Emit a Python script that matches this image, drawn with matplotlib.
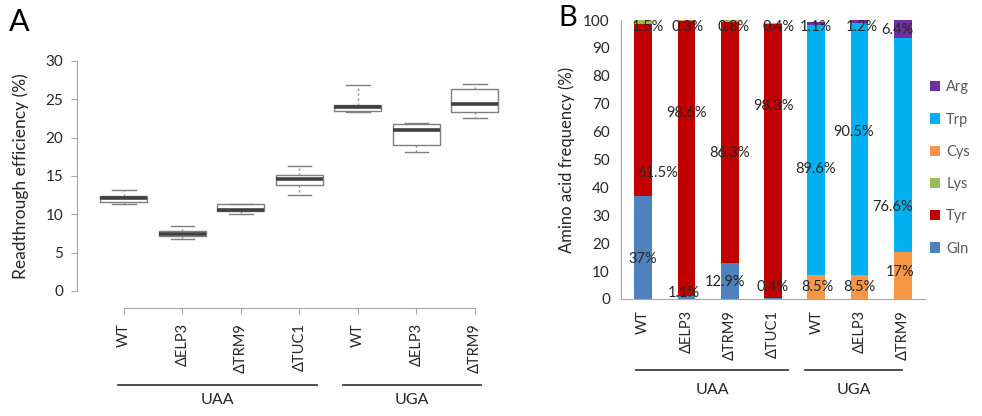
import matplotlib
matplotlib.use("Agg")
import matplotlib.pyplot as plt
from matplotlib.transforms import blended_transform_factory

plt.rcParams['font.family'] = ['Lato', 'DejaVu Sans']

# ---------------- Data ----------------
# Panel A: readthrough efficiency (%) box statistics
strains_a = ["WT", "ΔELP3", "ΔTRM9", "ΔTUC1", "WT", "ΔELP3", "ΔTRM9"]
whisk_lo = [11.3, 6.75, 10.0, 12.5, 23.4, 18.1, 22.5]
q1 = [11.6, 7.2, 10.4, 13.8, 23.5, 19.0, 23.4]
med = [12.1, 7.5, 10.6, 14.65, 24.0, 21.0, 24.4]
q3 = [12.4, 7.8, 11.3, 15.1, 24.2, 21.8, 26.3]
whisk_hi = [13.2, 8.5, 11.4, 16.3, 26.9, 21.9, 27.0]
groups = ["UAA", "UGA"]

# Panel B: amino acid frequency (%)
strains_b = ["WT", "ΔELP3", "ΔTRM9", "ΔTUC1", "WT", "ΔELP3", "ΔTRM9"]
gln = [37, 1.1, 12.9, 0.4, 0, 0, 0]
tyr = [61.5, 98.6, 86.3, 98.3, 0, 0, 0]
lys = [1.5, 0, 0.8, 0, 0, 0, 0]
cys = [0, 0.3, 0, 0.4, 8.5, 8.5, 17]
trp = [0, 0, 0, 0, 89.6, 90.5, 76.6]
arg = [0, 0, 0, 0, 1.1, 1.2, 6.4]
amino_names = ["Gln", "Tyr", "Lys", "Cys", "Trp", "Arg"]
amino_colors = ["#4F81BD", "#C00000", "#9BBB59", "#F79646", "#00B0F0", "#7030A0"]

# label positions (layout only): (series index, bar index, y position, x shift)
label_layout = [
    (0, 0, 14.3, 0.0), (1, 0, 45.0, 0.33), (2, 0, 97.5, 0.12),
    (0, 1, 2.2, -0.05), (1, 1, 66.6, 0.0), (3, 1, 97.5, 0.03),
    (0, 2, 6.1, -0.1), (1, 2, 52.3, 0.0), (2, 2, 97.5, 0.08),
    (0, 3, 4.3, 0.0), (1, 3, 69.2, 0.0), (3, 3, 97.5, 0.12),
    (3, 4, 4.3, 0.03), (4, 4, 46.6, -0.03), (5, 4, 97.5, 0.0),
    (3, 5, 4.3, 0.0), (4, 5, 60.0, -0.15), (5, 5, 97.5, 0.05),
    (3, 6, 9.7, -0.07), (4, 6, 33.0, -0.23), (5, 6, 96.4, -0.12),
]

GRAY = "#A6A6A6"
TXT = "#262626"

fig = plt.figure(figsize=(9.82, 4.16), dpi=100)

# ---------------- Panel A ----------------
axA = fig.add_axes([77/982, 1-291/416, (500-77)/982, (291-61)/416])
stats = []
for i in range(len(strains_a)):
    stats.append(dict(med=med[i], q1=q1[i], q3=q3[i], whislo=whisk_lo[i],
                      whishi=whisk_hi[i], fliers=[], label=strains_a[i]))
pos = list(range(len(strains_a)))
axA.bxp(stats, positions=pos, widths=0.8, showfliers=False, patch_artist=True,
        boxprops=dict(facecolor="white", edgecolor="#7F7F7F", linewidth=1.0),
        medianprops=dict(color="#404040", linewidth=2.6),
        whiskerprops=dict(color="#8C8C8C", linewidth=1.0, linestyle=(0, (1.5, 2))),
        capprops=dict(color="#7F7F7F", linewidth=1.0))
axA.set_xlim(-0.80, 6.43)
axA.set_ylim(0, 30)
axA.set_yticks(range(0, 31, 5))
for s in ["top", "right"]:
    axA.spines[s].set_visible(False)
axA.spines["left"].set_color(GRAY)
axA.spines["bottom"].set_color(GRAY)
axA.spines["bottom"].set_position(("outward", 12))
axA.spines["bottom"].set_bounds(0, 6)
axA.tick_params(axis="y", colors=GRAY, labelcolor=TXT, labelsize=11, length=4, pad=6)
axA.tick_params(axis="x", colors=GRAY, labelcolor=TXT, labelsize=10.5, length=4, pad=7,
                labelrotation=90)
axA.set_ylabel("Readthrough efficiency (%)", fontsize=12.5, color=TXT, labelpad=12)

trA = blended_transform_factory(axA.transData, fig.transFigure)
for (x0, x1), name in zip([(-0.1, 3.3), (3.75, 6.1)], groups):
    axA.plot([x0, x1], [1-385/416]*2, color="#404040", lw=1.3, transform=trA, clip_on=False)
    axA.text((x0+x1)/2, 1-400/416, name, transform=trA, ha="center", va="center",
             fontsize=11.5, color=TXT)
fig.text(9/982, 1-22/416, "A", fontsize=22, va="center", ha="left", color="black")

# ---------------- Panel B ----------------
axB = fig.add_axes([621/982, 1-299/416, (925-621)/982, (299-20)/416])
series = [gln, tyr, lys, cys, trp, arg]
xb = list(range(len(strains_b)))
bottom = [0.0]*len(xb)
for vals, name, col in zip(series, amino_names, amino_colors):
    axB.bar(xb, vals, width=0.41, bottom=bottom, color=col, label=name)
    bottom = [b+v for b, v in zip(bottom, vals)]
for si, bi, yy, dx in label_layout:
    v = series[si][bi]
    axB.text(xb[bi]+dx, yy, f"{v:g}%", ha="center", va="center", fontsize=10.5, color=TXT)
axB.set_xlim(-0.51, 6.51)
axB.set_ylim(0, 100)
axB.set_yticks(range(0, 101, 10))
axB.set_xticks(xb)
axB.set_xticklabels(strains_b)
for s in ["top", "right"]:
    axB.spines[s].set_visible(False)
axB.spines["left"].set_color(GRAY)
axB.spines["bottom"].set_color(GRAY)
axB.tick_params(axis="y", colors=GRAY, labelcolor=TXT, labelsize=11, length=0, pad=8)
axB.tick_params(axis="x", length=0, pad=8, labelsize=10.5, labelcolor=TXT, labelrotation=90)
axB.set_ylabel("Amino acid frequency (%)", fontsize=12, color=TXT, labelpad=6)

trB = blended_transform_factory(axB.transData, fig.transFigure)
for (x0, x1), name in zip([(-0.16, 3.35), (3.74, 5.98)], groups):
    axB.plot([x0, x1], [1-370/416]*2, color="#404040", lw=1.3, transform=trB, clip_on=False)
    axB.text((x0+x1)/2, 1-390/416, name, transform=trB, ha="center", va="center",
             fontsize=11.5, color=TXT)
fig.text(558/982, 1-18/416, "B", fontsize=21, va="center", ha="left", color="black")

handles, labels = axB.get_legend_handles_labels()
leg = axB.legend(handles[::-1], labels[::-1], loc="center left",
                 bbox_to_anchor=(917/982, 1-168/416), bbox_transform=fig.transFigure,
                 frameon=False, fontsize=10.5, labelspacing=1.25, handlelength=0.7,
                 handleheight=0.7, handletextpad=0.4)
for t in leg.get_texts():
    t.set_color("#595959")

fig.savefig("out.png", dpi=100)
